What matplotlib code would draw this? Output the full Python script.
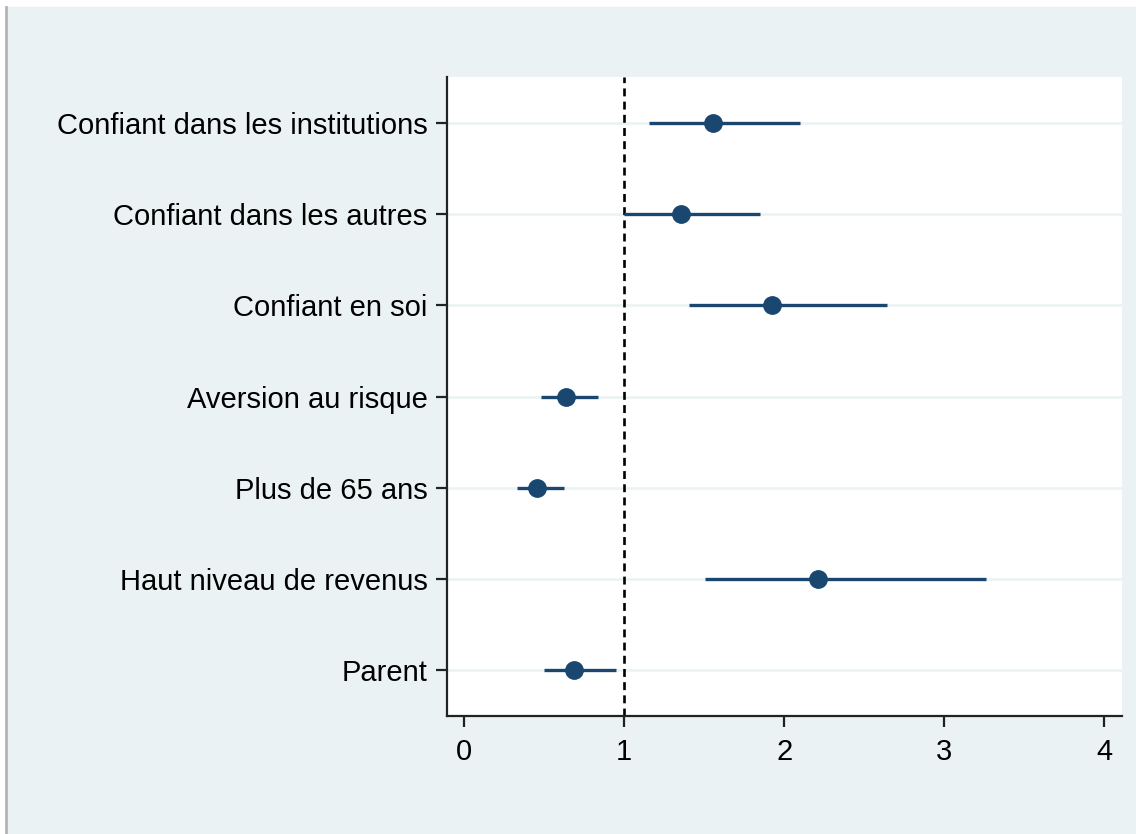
import matplotlib.pyplot as plt
from matplotlib.patches import Rectangle
from matplotlib.lines import Line2D

plt.rcParams['font.family'] = ['Liberation Sans', 'DejaVu Sans']

# odds ratios with 95% confidence intervals
labels = ["Confiant dans les institutions", "Confiant dans les autres",
          "Confiant en soi", "Aversion au risque", "Plus de 65 ans",
          "Haut niveau de revenus", "Parent"]
coef = [1.555, 1.354, 1.925, 0.635, 0.454, 2.21, 0.69]
ci_low = [1.154, 1.0, 1.406, 0.479, 0.329, 1.506, 0.50]
ci_high = [2.10, 1.85, 2.64, 0.84, 0.627, 3.26, 0.947]
xticks = [0, 1, 2, 3, 4]

navy = '#1A476F'
bg = '#EAF2F3'

fig = plt.figure(figsize=(11.36, 8.34), dpi=100, facecolor='white')
# stata style outer region
fig.patches.append(Rectangle((7 / 1136, 0), 1, (834 - 7) / 834,
                             transform=fig.transFigure, color=bg, zorder=-10))
fig.lines.append(Line2D([6 / 1136, 6 / 1136], [0, (834 - 7) / 834],
                        transform=fig.transFigure, color='#B4B4B4', lw=2))

ax = fig.add_axes([447 / 1136, (834 - 716) / 834, (1122 - 447) / 1136, (716 - 77) / 834])
ax.set_facecolor('white')

pos = list(range(1, len(labels) + 1))
for p in pos:
    ax.axhline(p, color=bg, lw=1.8, zorder=1)

ax.axvline(1, color='black', lw=1.9, ls=(0, (3.0, 2.0)), zorder=2)

ax.hlines(pos, ci_low, ci_high, color=navy, lw=2.4, zorder=3)
ax.plot(coef, pos, 'o', color=navy, ms=12.5, zorder=4)

ax.set_xlim(-0.106, 4.11)
ax.set_ylim(7.5, 0.5)
ax.set_yticks(pos)
ax.set_yticklabels(labels)
ax.set_xticks(xticks)

for s in ['top', 'right']:
    ax.spines[s].set_visible(False)
for s in ['left', 'bottom']:
    ax.spines[s].set_linewidth(1.6)
    ax.spines[s].set_color('#222222')

ax.tick_params(axis='both', length=8, width=1.6, color='#222222', labelsize=21)
ax.tick_params(axis='y', pad=6)
ax.tick_params(axis='x', pad=8)

fig.savefig('out.png', dpi=100, facecolor=fig.get_facecolor())
